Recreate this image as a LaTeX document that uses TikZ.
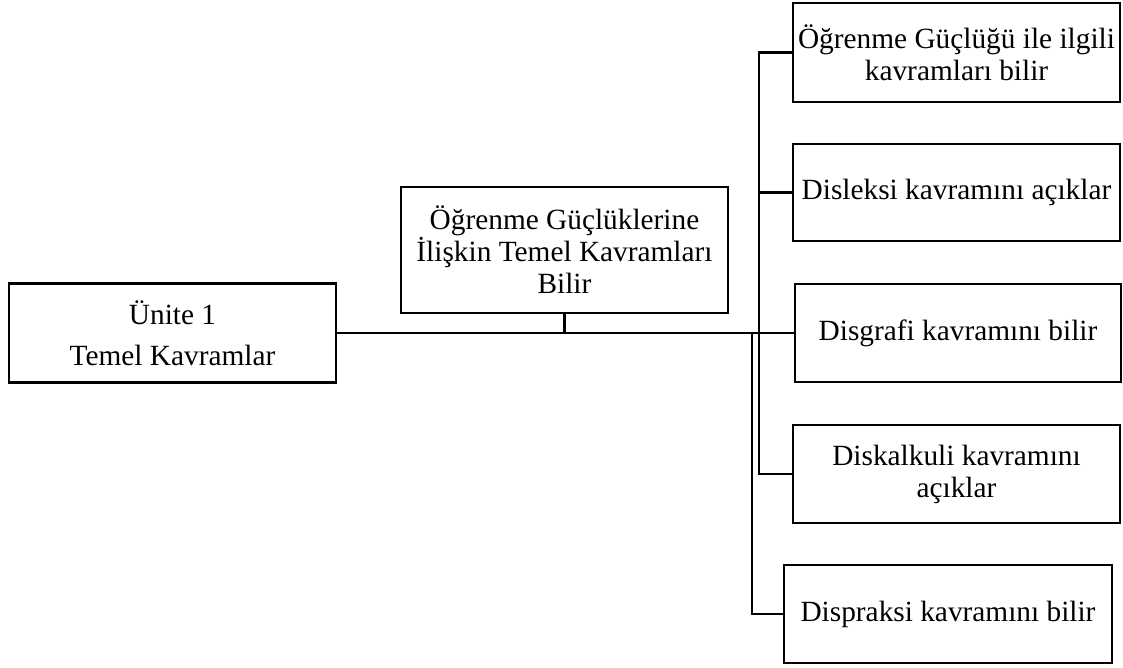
\documentclass[tikz,border=0pt]{standalone}
\usepackage{fontspec}
\setmainfont{Liberation Serif}
\begin{document}
\begin{tikzpicture}[x=0.75pt,y=-0.75pt,
  box/.style={draw=black,line width=1.8pt,rectangle,inner sep=1pt,align=center,
    font=\fontsize{22}{24}\selectfont},
  conn/.style={draw=black,line width=1.8pt}]
\useasboundingbox (0,0) rectangle (1123,667);
\node[box,minimum width=327*0.75pt,minimum height=99*0.75pt] (A) at (172.5,333) {Ünite 1\\[7pt]Temel Kavramlar};
\node[box,minimum width=327*0.75pt,minimum height=126*0.75pt] (B) at (564.5,250) {Öğrenme Güçlüklerine\\İlişkin Temel Kavramları\\Bilir};
\node[box,minimum width=327*0.75pt,minimum height=99*0.75pt] (C1) at (956.5,52.5) {Öğrenme Güçlüğü ile ilgili\\kavramları bilir};
\node[box,minimum width=327*0.75pt,minimum height=97*0.75pt] (C2) at (956.5,192.5) {Disleksi kavramını açıklar};
\node[box,minimum width=326*0.75pt,minimum height=98*0.75pt] (C3) at (958,333) {Disgrafi kavramını bilir};
\node[box,minimum width=327*0.75pt,minimum height=98*0.75pt] (C4) at (956.5,474) {Diskalkuli kavramını\\açıklar};
\node[box,minimum width=328*0.75pt,minimum height=98*0.75pt] (C5) at (948,614) {Dispraksi kavramını bilir};
\draw[conn] (A.east) -- (C3.west);
\draw[conn] (B.south) -- (B.south |- A.east);
\draw[conn] (C1.west) -- ++(-33,0) |- (C4.west);
\draw[conn] (C2.west) -- ++(-33,0);
\draw[conn] (C5.west) -- ++(-31,0) |- (C3.west);
\end{tikzpicture}
\end{document}
